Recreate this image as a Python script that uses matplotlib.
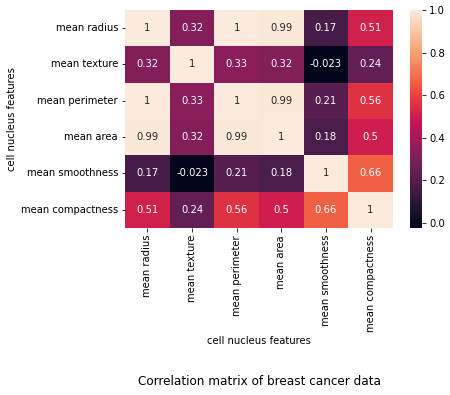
import numpy as np
import matplotlib
matplotlib.use("Agg")
import matplotlib.pyplot as plt
import seaborn as sns

# %%
features = ["mean radius", "mean texture", "mean perimeter",
            "mean area", "mean smoothness", "mean compactness"]

row_radius = [1, 0.32, 1, 0.99, 0.17, 0.51]
row_texture = [0.32, 1, 0.33, 0.32, -0.023, 0.24]
row_perimeter = [1, 0.33, 1, 0.99, 0.21, 0.56]
row_area = [0.99, 0.32, 0.99, 1, 0.18, 0.5]
row_smoothness = [0.17, -0.023, 0.21, 0.18, 1, 0.66]
row_compactness = [0.51, 0.24, 0.56, 0.5, 0.66, 1]

corr = np.array([row_radius, row_texture, row_perimeter,
                 row_area, row_smoothness, row_compactness])

# %%
fig = plt.figure(figsize=(450 / 72, 395 / 72), dpi=72)
ax = fig.add_axes([0.278, 0.423, 0.595, 0.552])
cax = fig.add_axes([0.911, 0.423, 0.027, 0.552])

sns.heatmap(corr, annot=True, xticklabels=features, yticklabels=features,
            ax=ax, cbar_ax=cax, annot_kws={"size": 10})

ax.set_xlabel("cell nucleus features", fontsize=10)
ax.set_ylabel("cell nucleus features", fontsize=10)
ax.tick_params(labelsize=10)
plt.setp(ax.get_xticklabels(), rotation=90)
plt.setp(ax.get_yticklabels(), rotation=0)
cax.tick_params(labelsize=10)
cax.set_yticks([0.0, 0.2, 0.4, 0.6, 0.8, 1.0])

fig.text(0.576, 0.033, "Correlation matrix of breast cancer data",
         ha="center", va="center", fontsize=12)

fig.savefig("out.png", dpi=72)
